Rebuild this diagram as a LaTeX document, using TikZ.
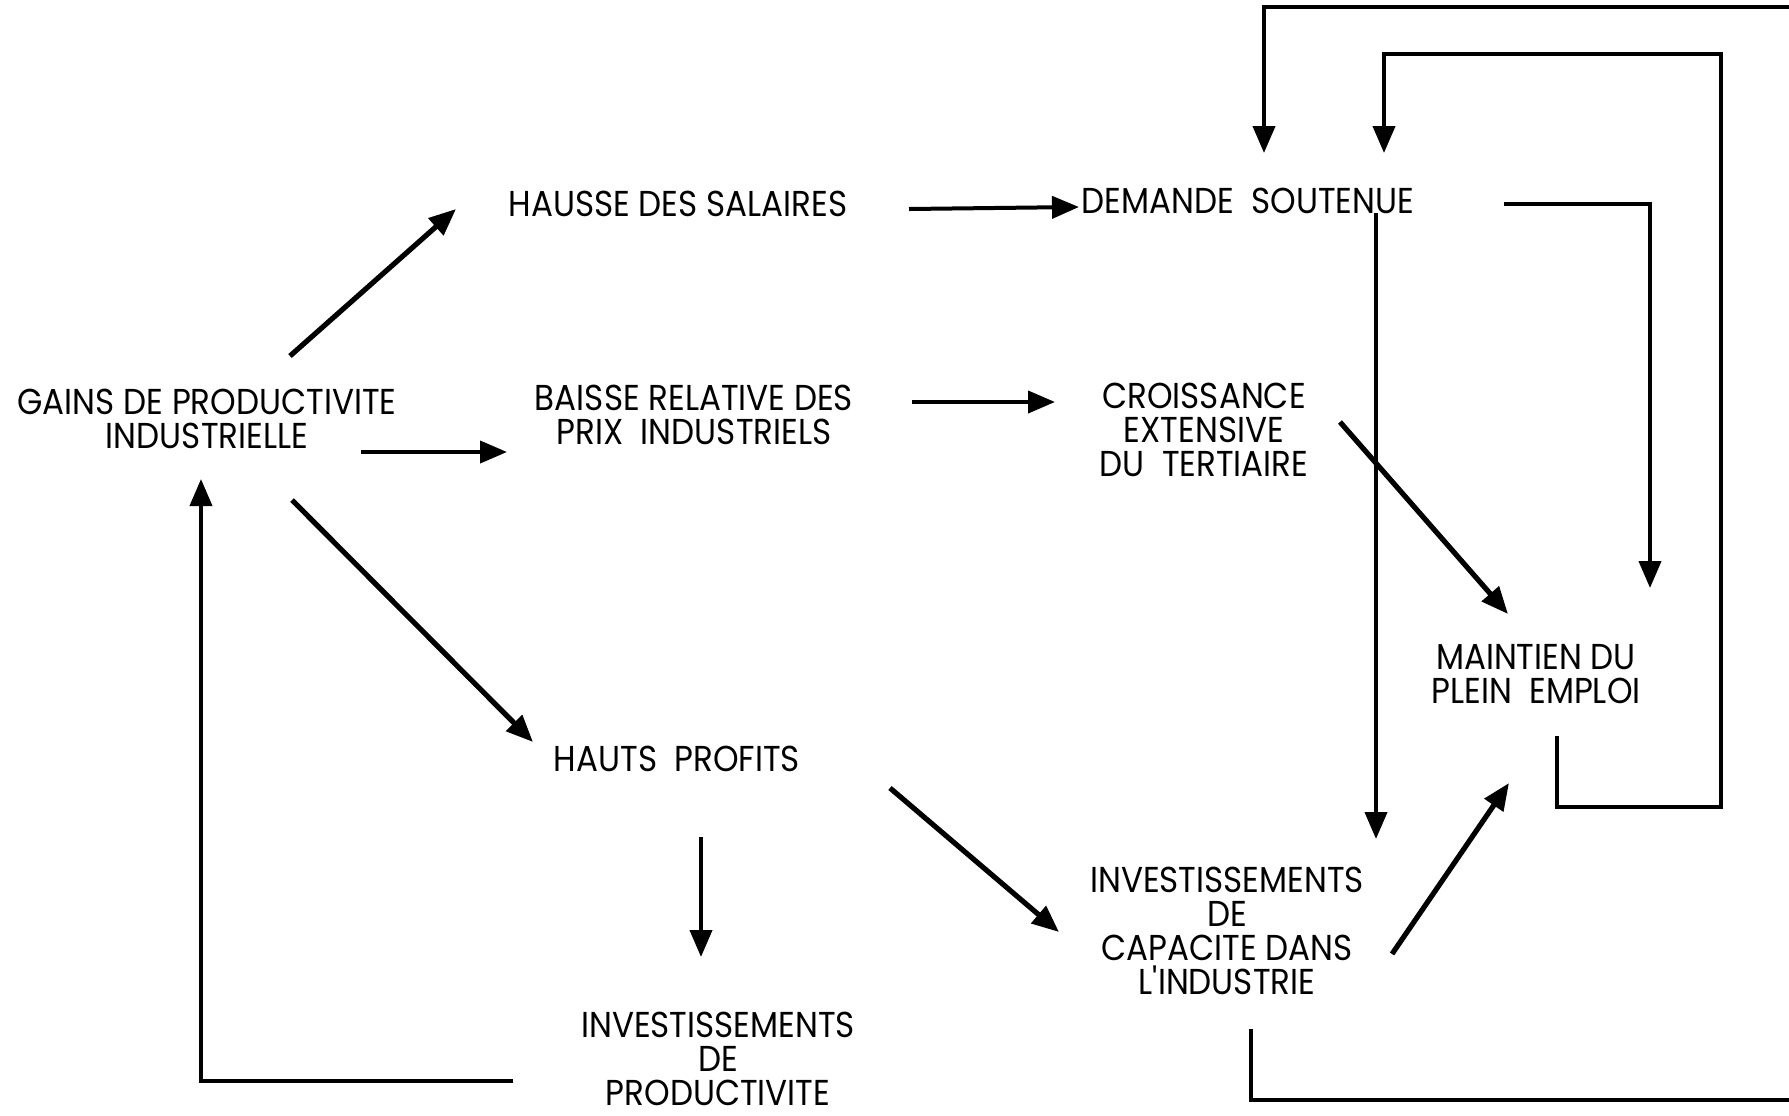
\documentclass[tikz,border=0pt]{standalone}
\usepackage{fontspec}
\setmainfont{Poppins}[FakeStretch=0.905, Ligatures=TeXOff]
\usetikzlibrary{arrows.meta}
\begin{document}
\begin{tikzpicture}[x=0.5pt,y=-0.5pt,
  lbl/.style={align=center, inner sep=0pt, font=\fontsize{18}{17}\selectfont},
  arr/.style={line width=2pt, -{Triangle[length=13.5pt,width=11pt]}},
  darr/.style={arr, line width=2.6pt},
  ln/.style={line width=2pt}]
\fill[white] (0,0) rectangle (1789,1115);
\useasboundingbox (0,0) rectangle (1789,1115);
\clip (0,0) rectangle (1789,1115);

\node[lbl] (gains)    at (207,419)  {GAINS DE PRODUCTIVITE\\INDUSTRIELLE};
\node[lbl] (hausse)   at (678,204)  {HAUSSE DES SALAIRES};
\node[lbl] (baisse)   at (694,415)  {BAISSE RELATIVE DES\\PRIX\ \ INDUSTRIELS};
\node[lbl] (hauts)    at (677,759)  {HAUTS\ \ PROFITS};
\node[lbl] (invprod)  at (718,1059) {INVESTISSEMENTS\\DE\\PRODUCTIVITE};
\node[lbl] (demande)  at (1248,201) {DEMANDE\ \ SOUTENUE};
\node[lbl] (crois)    at (1204,430) {CROISSANCE\\EXTENSIVE\\DU\ \ TERTIAIRE};
\node[lbl] (maintien) at (1536,674) {MAINTIEN DU\\PLEIN\ \ EMPLOI};
\node[lbl] (invcap)   at (1227,931) {INVESTISSEMENTS\\DE\\CAPACITE DANS\\L'INDUSTRIE};

% diagonal and straight arrows
\draw[darr] ([shift={(83,-63)}]gains.center) -- ([shift={(-222,5)}]hausse.center);
\draw[arr]  ([shift={(154,33)}]gains.center) -- ([shift={(-187,37)}]baisse.center);
\draw[darr] ([shift={(85,81)}]gains.center) -- ([shift={(-144,-17)}]hauts.center);
\draw[arr]  ([shift={(231,5)}]hausse.center) -- ([shift={(-169,6)}]demande.center);
\draw[arr]  ([shift={(218,-13)}]baisse.center) -- ([shift={(-149,-28)}]crois.center);
\draw[arr]  ([shift={(24,78)}]hauts.center) -- ([shift={(-17,-102)}]invprod.center);
\draw[darr] ([shift={(213,29)}]hauts.center) -- ([shift={(-168,1)}]invcap.center);
\draw[arr]  ([shift={(128,12)}]demande.center) -- ([shift={(149,-92)}]invcap.center);
\draw[arr]  ([shift={(256,3)}]demande.center) -| ([shift={(114,-86)}]maintien.center);
\draw[darr] ([shift={(136,-8)}]crois.center) -- ([shift={(-28,-60)}]maintien.center);
\draw[darr] ([shift={(165,23)}]invcap.center) -- ([shift={(-27,109)}]maintien.center);

% feedback loops
\draw[arr] ([shift={(21,62)}]maintien.center) -- ++(0,71) -- ++(164,0) -- ++(0,-753)
           -| ([shift={(136,-48)}]demande.center);
\draw[arr] ([shift={(24,98)}]invcap.center) -- ++(0,71) -- ++(580,0) -- ++(0,-1093)
           -| ([shift={(16,-48)}]demande.center);
\draw[arr] ([shift={(-205,22)}]invprod.center) -| ([shift={(-6,60)}]gains.center);
\end{tikzpicture}
\end{document}
